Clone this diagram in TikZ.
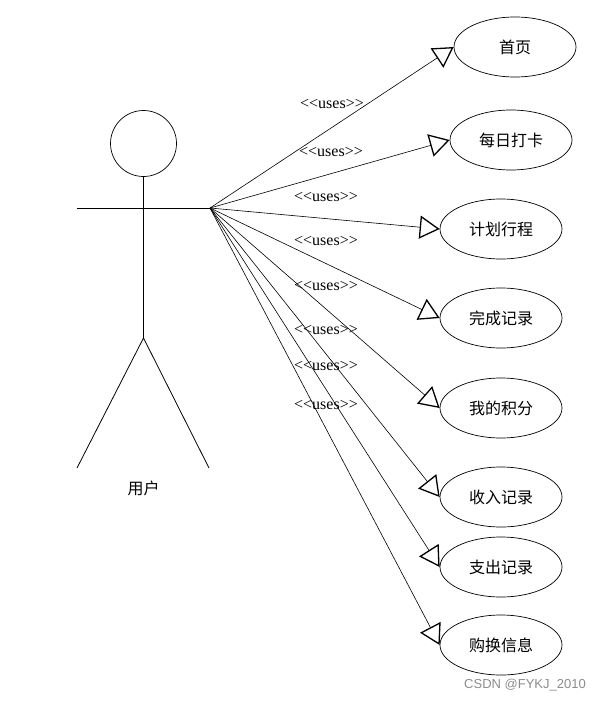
\documentclass[tikz,border=0pt]{standalone}
\usepackage{fontspec}
\setmainfont{Liberation Serif}
\newfontfamily\cjk{Noto Sans CJK SC}
\newfontfamily\wmfont{Liberation Sans}
\usetikzlibrary{arrows.meta,shapes.geometric}
\newcommand\usestxt{{<}{<}uses{>}{>}}
\begin{document}
\begin{tikzpicture}[x=1pt,y=-1pt,
  line width=0.7pt,
  usecase/.style={draw, ellipse, inner sep=0pt, minimum width=122pt, minimum height=60pt,
    font=\cjk\fontsize{16}{16}\selectfont},
  uses/.style={draw, line width=0.6pt,
    -{Triangle[open, length=20pt, width=23pt, line width=1.3pt]}},
  lbl/.style={font=\fontsize{16}{16}\selectfont, inner sep=0pt},
  limb/.style={draw, line width=0.8pt}]
\useasboundingbox (0,0) rectangle (605,701);
% actor
\node[draw, circle, minimum size=66pt, inner sep=0pt] (head) at (143.5,143.5) {};
\coordinate (hip) at (143.5,338);
\coordinate (larm) at (77,208);
\coordinate (rarm) at (210,208);
\coordinate (lfoot) at (77,468);
\coordinate (rfoot) at (209,468);
\draw[limb] (head.south) -- (hip);
\draw[limb] (larm) -- (rarm);
\draw[limb] (lfoot) -- (hip) -- (rfoot);
\node[font=\cjk\fontsize{16}{16}\selectfont] (actorlbl) at (143.5,488) {用户};
% use cases
\node[usecase] (u1) at (515,47) {首页};
\node[usecase] (u2) at (511,140) {每日打卡};
\node[usecase] (u3) at (501,229) {计划行程};
\node[usecase] (u4) at (501,318) {完成记录};
\node[usecase] (u5) at (501,408) {我的积分};
\node[usecase] (u6) at (501,497) {收入记录};
\node[usecase] (u7) at (501,567) {支出记录};
\node[usecase] (u8) at (501,645) {购换信息};
% connectors
\foreach \i in {1,...,8} {\draw[uses] (rarm) -- (u\i.west);}
% labels
\node[lbl] (l1) at (332,104) {\usestxt};
\node[lbl] (l2) at (331,152) {\usestxt};
\node[lbl] (l3) at (326,197) {\usestxt};
\node[lbl] (l4) at (326,241) {\usestxt};
\node[lbl] (l5) at (326,286) {\usestxt};
\node[lbl] (l6) at (326,330) {\usestxt};
\node[lbl] (l7) at (326,366) {\usestxt};
\node[lbl] (l8) at (326,405) {\usestxt};
% watermark
\node[font=\wmfont\fontsize{13}{13}\selectfont, text=black!45] (wm) at (525,685) {CSDN @FYKJ\_2010};
\end{tikzpicture}
\end{document}
